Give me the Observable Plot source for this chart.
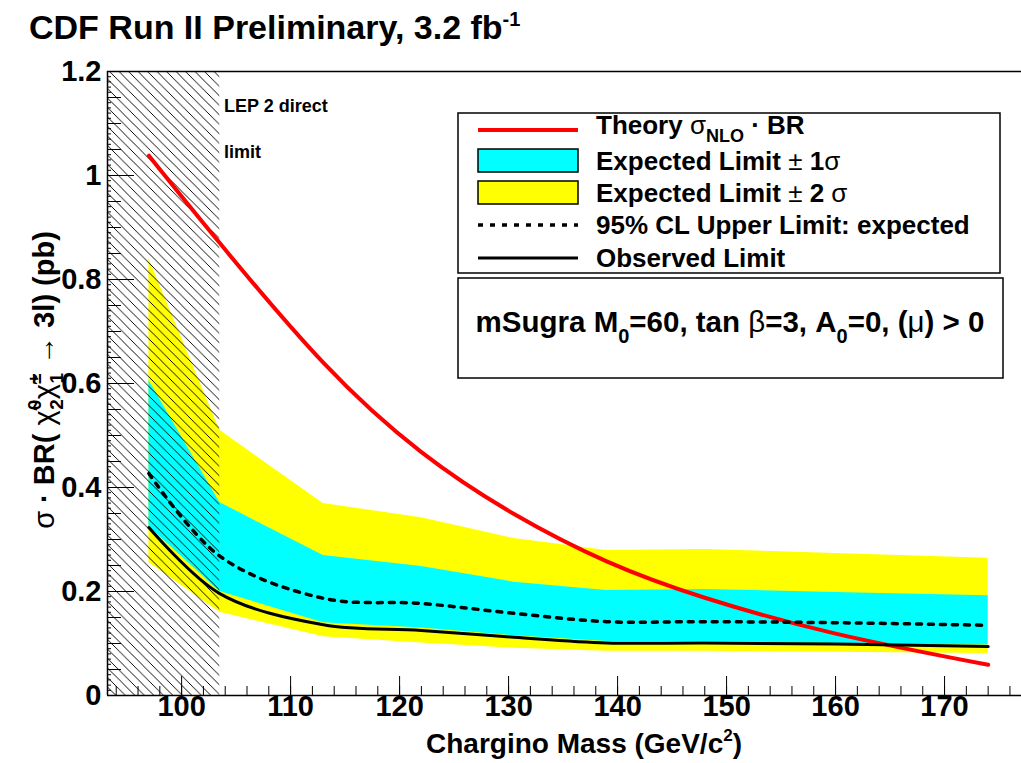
<!DOCTYPE html>
<html><head><meta charset="utf-8">
<script src="https://cdn.jsdelivr.net/npm/d3@7"></script>
<script src="https://cdn.jsdelivr.net/npm/@observablehq/plot@0.6"></script>
<style>body{margin:0;background:#fff} svg{display:block}</style>
</head><body><div id="chart"></div>
<script>
// ---- data ----
const mass      = [97,    103.5, 113,   122,   130.5, 139,   148,   160,   174];
const theory    = [1.038, 0.870, 0.640, 0.468, 0.349, 0.258, 0.188, 0.119, 0.059];
const expected  = [0.427, 0.268, 0.187, 0.177, 0.158, 0.142, 0.142, 0.140, 0.135];
const observed  = [0.323, 0.196, 0.136, 0.125, 0.112, 0.101, 0.101, 0.099, 0.094];
const band1Hi   = [0.606, 0.371, 0.269, 0.248, 0.218, 0.202, 0.204, 0.198, 0.192];
const band1Lo   = [0.325, 0.200, 0.140, 0.130, 0.115, 0.104, 0.104, 0.100, 0.097];
const band2Hi   = [0.840, 0.510, 0.369, 0.342, 0.302, 0.279, 0.281, 0.273, 0.264];
const band2Lo   = [0.256, 0.160, 0.113, 0.101, 0.091, 0.085, 0.085, 0.083, 0.081];
const lepLimit  = 103.5;
const xTicks    = [100, 110, 120, 130, 140, 150, 160, 170];
const yTicks    = [0, 0.2, 0.4, 0.6, 0.8, 1, 1.2];
const xDomain   = [93.2, 177.06];
const yDomain   = [0, 1.2];

const rows = mass.map((m, i) => ({
  m, th: theory[i], exp: expected[i], obs: observed[i],
  lo1: band1Lo[i], hi1: band1Hi[i], lo2: band2Lo[i], hi2: band2Hi[i]
}));

const W = 1021, H = 763, ML = 107, MR = 0, MT = 71, MB = 68;
const plotW = W - ML - MR, plotH = H - MT - MB;
const font = "'Liberation Sans', Arial, Helvetica, sans-serif";

const xMinor = d3.range(94, 177.01, 2);
const ySec = d3.range(0, 1.2001, 0.05);
const yTer = d3.range(0, 1.2001, 0.01);

const plot = Plot.plot({
  width: W, height: H,
  marginLeft: ML, marginRight: MR, marginTop: MT, marginBottom: MB,
  x: {domain: xDomain, axis: null},
  y: {domain: yDomain, axis: null},
  style: {fontFamily: font, background: "white", overflow: "visible"},
  marks: [
    Plot.areaY(rows, {x: "m", y1: "lo2", y2: "hi2", fill: "#ffff00", curve: "linear"}),
    Plot.areaY(rows, {x: "m", y1: "lo1", y2: "hi1", fill: "#00ffff", curve: "linear"}),
    Plot.rect([{x1: xDomain[0], x2: lepLimit}], {x1: "x1", x2: "x2", y1: yDomain[0], y2: yDomain[1], fill: "url(#lephatch)"}),
    Plot.line(rows, {x: "m", y: "th", stroke: "#ff0000", strokeWidth: 4, curve: "natural"}),
    Plot.line(rows, {x: "m", y: "exp", stroke: "black", strokeWidth: 3.5, strokeDasharray: "5,7", curve: "catmull-rom"}),
    Plot.line(rows, {x: "m", y: "obs", stroke: "black", strokeWidth: 3, curve: "catmull-rom"}),
    // frame / axis lines
    Plot.ruleX([xDomain[0]], {stroke: "black", strokeWidth: 1.5}),
    Plot.ruleY([yDomain[0], yDomain[1]], {stroke: "black", strokeWidth: 1.5}),
    // x ticks (inward)
    Plot.tickX(xMinor, {x: d => d, insetTop: plotH - 9, stroke: "black"}),
    Plot.tickX(xTicks, {x: d => d, insetTop: plotH - 19, stroke: "black"}),
    // y ticks (inward)
    Plot.tickY(yTer, {y: d => d, insetRight: plotW - 4, stroke: "black"}),
    Plot.tickY(ySec, {y: d => d, insetRight: plotW - 14, stroke: "black"}),
    Plot.tickY(yTicks, {y: d => d, insetRight: plotW - 27, stroke: "black"}),
    // tick labels
    Plot.text(xTicks, {x: d => d, frameAnchor: "bottom", dy: 20, text: d => String(d),
      fontSize: 29, fontWeight: "bold", fill: "black"}),
    Plot.text(yTicks, {y: d => d, frameAnchor: "left", dx: -6, textAnchor: "end", text: d => String(d),
      fontSize: 29, fontWeight: "bold", fill: "black"})
  ]
});

const svg = d3.select(plot);
const defs = svg.insert("defs", ":first-child");
const s = 9.5;
const pat = defs.append("pattern").attr("id", "lephatch")
  .attr("patternUnits", "userSpaceOnUse").attr("width", s).attr("height", s);
pat.append("path")
  .attr("d", `M-1,-1L${s+1},${s+1}M-1,${s-1}L1,${s+1}M${s-1},-1L${s+1},1`)
  .attr("stroke", "black").attr("stroke-width", 1).attr("fill", "none")
  .attr("shape-rendering", "crispEdges");

const g = svg.append("g").attr("font-family", font).attr("font-weight", "bold")
  .attr("fill", "black").attr("text-anchor", "start");

// Title
const t = g.append("text").attr("x", 29).attr("y", 39).attr("font-size", 34).attr("text-anchor", "start");
t.append("tspan").text("CDF Run II Preliminary, 3.2 fb");
t.append("tspan").attr("dy", -13).attr("font-size", 20).text("-1");

// LEP text
g.append("text").attr("x", 224).attr("y", 112).attr("font-size", 18).attr("text-anchor", "start").text("LEP 2 direct");
g.append("text").attr("x", 224).attr("y", 158).attr("font-size", 18).attr("text-anchor", "start").text("limit");

// X title
const xt = g.append("text").attr("x", 742).attr("y", 753).attr("font-size", 28).attr("text-anchor", "end");
xt.append("tspan").text("Chargino Mass (GeV/c");
xt.append("tspan").attr("dy", -12).attr("font-size", 17).text("2");
xt.append("tspan").attr("dy", 12).text(")");

// Y title
const yt = g.append("text").attr("transform", "translate(54,380) rotate(-90)")
  .attr("font-size", 29).attr("text-anchor", "middle");
yt.append("tspan").attr("font-weight", "normal").text("σ");
yt.append("tspan").text(" · BR( ");
yt.append("tspan").attr("font-weight", "normal").text("χ\u0303");
yt.append("tspan").attr("dy", -13).attr("font-size", 19).text("0");
yt.append("tspan").attr("dx", -10).attr("dy", 22).attr("font-size", 19).text("2");
yt.append("tspan").attr("dy", -9).attr("font-weight", "normal").text("χ\u0303");
yt.append("tspan").attr("dy", -13).attr("font-size", 19).text("±");
yt.append("tspan").attr("dx", -10).attr("dy", 22).attr("font-size", 19).text("1");
yt.append("tspan").attr("dy", -9).attr("font-weight", "normal").text(" \u2192");
yt.append("tspan").text(" 3l) (pb)");

// Legend box
const lg = g.append("g");
lg.append("rect").attr("x", 458).attr("y", 113).attr("width", 542).attr("height", 160)
  .attr("fill", "white").attr("stroke", "black").attr("stroke-width", 1.5);
const sx1 = 478, sx2 = 578, tx = 596;
lg.append("line").attr("x1", sx1).attr("x2", sx2).attr("y1", 130).attr("y2", 130).attr("stroke", "#ff0000").attr("stroke-width", 4);
lg.append("rect").attr("x", sx1).attr("y", 149).attr("width", sx2 - sx1).attr("height", 23).attr("fill", "#00ffff").attr("stroke", "black").attr("stroke-width", 1.5);
lg.append("rect").attr("x", sx1).attr("y", 181).attr("width", sx2 - sx1).attr("height", 23).attr("fill", "#ffff00").attr("stroke", "black").attr("stroke-width", 1.5);
lg.append("line").attr("x1", sx1).attr("x2", sx2).attr("y1", 225).attr("y2", 225).attr("stroke", "black").attr("stroke-width", 3.5).attr("stroke-dasharray", "5,7");
lg.append("line").attr("x1", sx1).attr("x2", sx2).attr("y1", 258).attr("y2", 258).attr("stroke", "black").attr("stroke-width", 3);

const fs = 26;
const l1 = lg.append("text").attr("x", tx).attr("y", 134).attr("font-size", fs);
l1.append("tspan").text("Theory ");
l1.append("tspan").attr("font-weight", "normal").text("σ");
l1.append("tspan").attr("dy", 8).attr("font-size", 18).text("NLO");
l1.append("tspan").attr("dy", -8).text(" · BR");
const l2 = lg.append("text").attr("x", tx).attr("y", 170).attr("font-size", fs);
l2.append("tspan").text("Expected Limit ");
l2.append("tspan").attr("font-weight", "normal").text("±");
l2.append("tspan").text(" 1");
l2.append("tspan").attr("font-weight", "normal").text("σ");
const l3 = lg.append("text").attr("x", tx).attr("y", 202).attr("font-size", fs);
l3.append("tspan").text("Expected Limit ");
l3.append("tspan").attr("font-weight", "normal").text("±");
l3.append("tspan").text(" 2 ");
l3.append("tspan").attr("font-weight", "normal").text("σ");
lg.append("text").attr("x", tx).attr("y", 234).attr("font-size", fs).text("95% CL Upper Limit: expected");
lg.append("text").attr("x", tx).attr("y", 267).attr("font-size", fs).text("Observed Limit");

// mSugra box
lg.append("rect").attr("x", 458).attr("y", 278).attr("width", 545).attr("height", 100)
  .attr("fill", "white").attr("stroke", "black").attr("stroke-width", 1.5);
const ms = lg.append("text").attr("x", 730).attr("y", 332).attr("font-size", 29.5).attr("text-anchor", "middle");
ms.append("tspan").text("mSugra M");
ms.append("tspan").attr("dy", 11).attr("font-size", 20).text("0");
ms.append("tspan").attr("dy", -11).text("=60, tan ");
ms.append("tspan").attr("font-weight", "normal").text("β");
ms.append("tspan").text("=3, A");
ms.append("tspan").attr("dy", 11).attr("font-size", 20).text("0");
ms.append("tspan").attr("dy", -11).text("=0, (");
ms.append("tspan").attr("font-weight", "normal").text("μ");
ms.append("tspan").text(") > 0");

document.getElementById("chart").appendChild(plot);
</script>
</body></html>
